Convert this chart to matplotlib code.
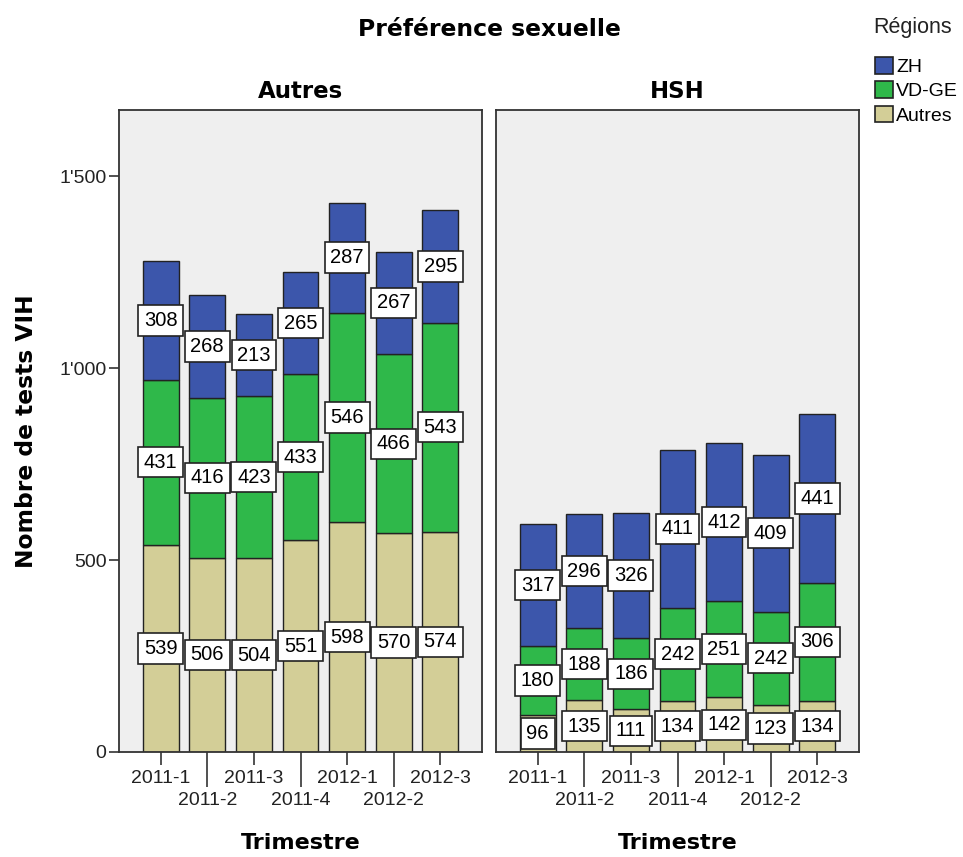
import matplotlib
matplotlib.use('Agg')
import matplotlib.pyplot as plt
from matplotlib.patches import Patch
from matplotlib.ticker import FuncFormatter

trimestres = ['2011-1', '2011-2', '2011-3', '2011-4', '2012-1', '2012-2', '2012-3']
regions = ['ZH', 'VD-GE', 'Autres']

# panneau "Autres"
autres_autres = [539, 506, 504, 551, 598, 570, 574]
autres_vdge = [431, 416, 423, 433, 546, 466, 543]
autres_zh = [308, 268, 213, 265, 287, 267, 295]

# panneau "HSH"
hsh_autres = [96, 135, 111, 134, 142, 123, 134]
hsh_vdge = [180, 188, 186, 242, 251, 242, 306]
hsh_zh = [317, 296, 326, 411, 412, 409, 441]

couleurs = {'ZH': '#3c56ab', 'VD-GE': '#2fb84a', 'Autres': '#d3ce97'}

police_num = 'Liberation Sans'
police_titre = 'DejaVu Sans'

fig = plt.figure(figsize=(9.63, 8.57), dpi=100)

W, H = 963., 857.
ax1 = fig.add_axes([119 / W, 1 - 752 / H, 363 / W, 642 / H])
ax2 = fig.add_axes([496 / W, 1 - 752 / H, 363 / W, 642 / H])


def dessiner(ax, titre, series):
    x = list(range(len(trimestres)))
    bas = [0] * len(x)
    for nom, valeurs in series:
        ax.bar(x, valeurs, width=0.77, bottom=bas, color=couleurs[nom],
               edgecolor='#222222', linewidth=1.0, zorder=2)
        for i, v in enumerate(valeurs):
            ax.text(i, bas[i] + v / 2., str(v), ha='center', va='center',
                    fontsize=14.5, family=police_num, zorder=4,
                    bbox=dict(boxstyle='square,pad=0.28', facecolor='white',
                              edgecolor='#222222', linewidth=1.2))
        bas = [b + v for b, v in zip(bas, valeurs)]

    ax.set_facecolor('#efefef')
    ax.set_xlim(-0.895, 6.895)
    ax.set_ylim(0, 1672)
    for s in ax.spines.values():
        s.set_color('#333333')
        s.set_linewidth(1.3)

    ax.set_xticks([0, 2, 4, 6])
    ax.set_xticklabels([trimestres[i] for i in [0, 2, 4, 6]])
    ax.set_xticks([1, 3, 5], minor=True)
    ax.set_xticklabels([trimestres[i] for i in [1, 3, 5]], minor=True)
    ax.tick_params(axis='x', which='major', length=9.4, width=1.2, pad=3.5,
                   labelsize=14, color='#333333')
    ax.tick_params(axis='x', which='minor', length=25, width=1.2, pad=4,
                   labelsize=14, color='#333333')
    for lab in ax.get_xticklabels(which='both'):
        lab.set_family(police_num)
        lab.set_color('#222222')

    ax.set_title(titre, fontsize=16.5, fontweight='bold', family=police_titre, pad=9)
    ax.set_xlabel('Trimestre', fontsize=16, fontweight='bold', family=police_titre)
    ax.xaxis.label.set_va('center')
    ax.xaxis.set_label_coords(0.5, -(843 - 752) / 642.)


dessiner(ax1, 'Autres', [('Autres', autres_autres), ('VD-GE', autres_vdge), ('ZH', autres_zh)])
dessiner(ax2, 'HSH', [('Autres', hsh_autres), ('VD-GE', hsh_vdge), ('ZH', hsh_zh)])

ax1.set_yticks([0, 500, 1000, 1500])
ax1.yaxis.set_major_formatter(FuncFormatter(lambda v, p: '{:,}'.format(int(v)).replace(',', "'")))
ax1.tick_params(axis='y', length=7, width=1.2, pad=2, labelsize=14, color='#333333')
for lab in ax1.get_yticklabels():
    lab.set_family(police_num)
    lab.set_color('#222222')
ax1.set_ylabel('Nombre de tests VIH', fontsize=16.8, fontweight='bold', family=police_titre)
ax1.yaxis.label.set_va('center')
ax1.yaxis.set_label_coords((26 - 119) / 363., 0.5)

ax2.set_yticks([])

fig.text(489 / W, 1 - 30 / H, 'Préférence sexuelle', ha='center', va='center',
         fontsize=16.9, fontweight='bold', family=police_titre)

# légende
fig.text(873 / W, 1 - 28 / H, 'Régions', ha='left', va='center',
         fontsize=15.5, family=police_num, color='#222222')
poignees = [Patch(facecolor=couleurs[r], edgecolor='#222222', linewidth=1.2) for r in regions]
fig.legend(poignees, regions, loc='upper left', bbox_to_anchor=(871 / W, 1 - 53 / H),
           frameon=False, prop={'family': police_num, 'size': 14},
           handlelength=0.95, handleheight=0.95, handletextpad=0.15,
           labelspacing=0.27, borderpad=0.2, borderaxespad=0)

fig.savefig('out.png', dpi=100)
